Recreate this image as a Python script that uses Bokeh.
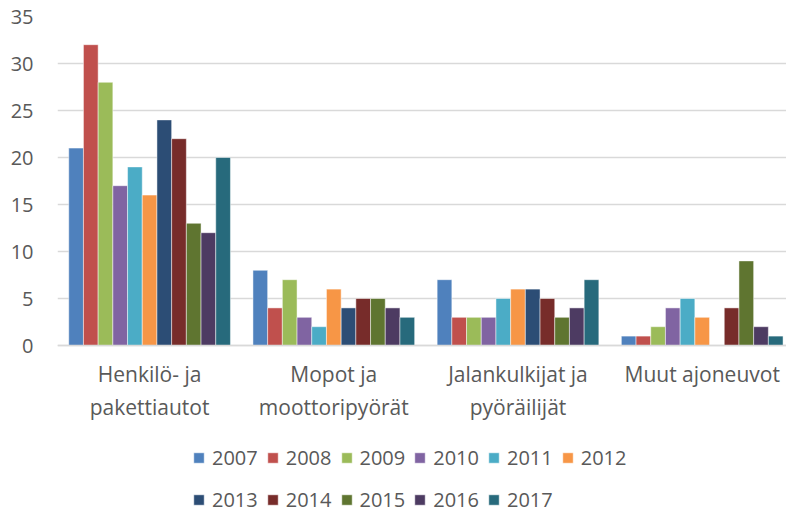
from bokeh.plotting import figure
from bokeh.models import Legend, LegendItem, FixedTicker, Range1d
from bokeh.embed import file_html
from bokeh.resources import INLINE

categories = ["Henkilö- ja\npakettiautot", "Mopot ja\nmoottoripyörät",
              "Jalankulkijat ja\npyöräilijät", "Muut ajoneuvot"]
years = ["2007", "2008", "2009", "2010", "2011", "2012",
         "2013", "2014", "2015", "2016", "2017"]

v2007 = [21, 8, 7, 1]
v2008 = [32, 4, 3, 1]
v2009 = [28, 7, 3, 2]
v2010 = [17, 3, 3, 4]
v2011 = [19, 2, 5, 5]
v2012 = [16, 6, 6, 3]
v2013 = [24, 4, 6, 0]
v2014 = [22, 5, 5, 4]
v2015 = [13, 5, 3, 9]
v2016 = [12, 4, 4, 2]
v2017 = [20, 3, 7, 1]
series = [v2007, v2008, v2009, v2010, v2011, v2012,
          v2013, v2014, v2015, v2016, v2017]
y_ticks = [0, 5, 10, 15, 20, 25, 30, 35]

colors = ["#4F81BD", "#C0504D", "#9BBB59", "#8064A2", "#4BACC6", "#F79646",
          "#2C4D75", "#772C2A", "#5F7530", "#4D3B62", "#276A7C"]

FONT = "Open Sans"
TXT = "#595959"
GRID = "#D9D9D9"

W, H = 786, 514
TOP, LEFT = 16, 57
PLOT_BOTTOM = 345            # pixel row of the value 0
Y_MAX = 35
CAT_PX = 184.2               # pixel width of one category slot
px_per_unit = (PLOT_BOTTOM - TOP) / Y_MAX
y_min = -(H - PLOT_BOTTOM) / px_per_unit   # room under the axis for labels + legend
x_max = (W - LEFT) / CAT_PX                # last slot runs past the right edge

cat_pos = [i + 0.5 for i in range(len(categories))]

p = figure(width=W, height=H, x_range=Range1d(0, x_max),
           y_range=Range1d(y_min, Y_MAX), output_backend="svg",
           toolbar_location=None,
           min_border_left=LEFT, min_border_top=TOP, min_border_right=0,
           min_border_bottom=0)
p.outline_line_color = None
p.xgrid.grid_line_color = None
p.ygrid.grid_line_color = GRID
p.ygrid.grid_line_width = 1.3
p.ygrid.ticker = FixedTicker(ticks=y_ticks)

p.yaxis.ticker = FixedTicker(ticks=y_ticks)
p.yaxis.axis_line_color = None
p.yaxis.major_tick_line_color = None
p.yaxis.minor_tick_line_color = None
p.yaxis.major_tick_out = 0
p.yaxis.major_label_standoff = 24
p.yaxis.major_label_text_font = FONT
p.yaxis.major_label_text_font_size = "20px"
p.yaxis.major_label_text_color = TXT

p.xaxis.fixed_location = 0
p.xaxis.ticker = FixedTicker(ticks=cat_pos)
p.xaxis.major_label_overrides = {pos: lab for pos, lab in zip(cat_pos, categories)}
p.xaxis.axis_line_color = GRID
p.xaxis.axis_line_width = 1.3
p.xaxis.major_tick_line_color = None
p.xaxis.minor_tick_line_color = None
p.xaxis.major_tick_out = 0
p.xaxis.major_label_standoff = 14
p.xaxis.major_label_text_font = FONT
p.xaxis.major_label_text_font_size = "21px"
p.xaxis.major_label_text_color = TXT
p.xaxis.major_label_text_line_height = 1.2

bw = 14.7 / CAT_PX
items = []
n = len(years)
for i, (y, c, vals) in enumerate(zip(years, colors, series)):
    off = (i - (n - 1) / 2) * bw
    xs = [cp + off for cp in cat_pos]
    r = p.vbar(x=xs, top=vals, width=bw, fill_color=c, line_color="white",
               line_width=0.8, line_alpha=0.6)
    items.append(LegendItem(label=y, renderers=[r]))

legend = Legend(items=items, orientation="horizontal", ncols=6,
                location=(135, -2), border_line_color=None,
                background_fill_alpha=0, glyph_width=13, glyph_height=13,
                label_standoff=7, spacing=8, padding=0, margin=0,
                label_text_font=FONT, label_text_font_size="20px",
                label_text_color=TXT, label_height=34)
p.add_layout(legend, "center")

open("out.html", "w").write(file_html(p, INLINE))
